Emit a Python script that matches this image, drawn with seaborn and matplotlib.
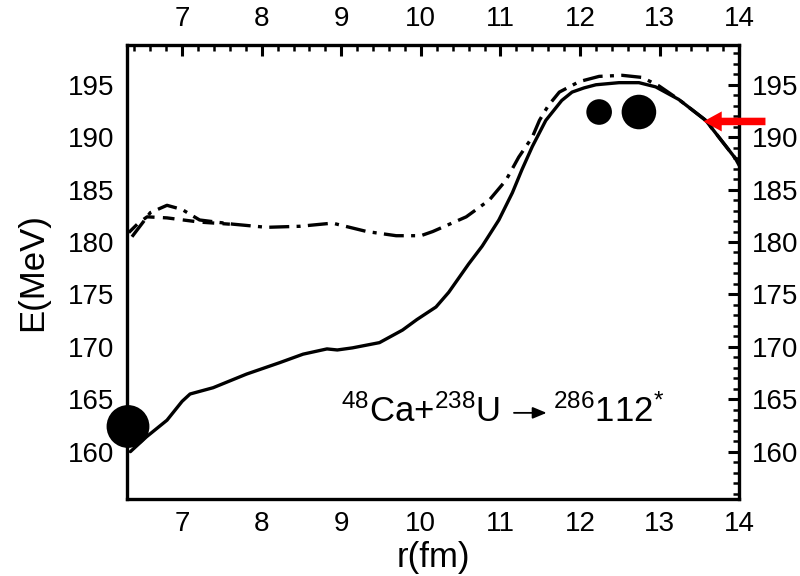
import numpy as np
import pandas as pd
import seaborn as sns
import matplotlib
matplotlib.use("Agg")
import matplotlib.pyplot as plt
from matplotlib.ticker import MultipleLocator

# ---- data ----
solid_r = [6.35, 6.55, 6.81, 7.0, 7.1, 7.39, 7.81, 8.23, 8.52, 8.82, 8.95, 9.14, 9.48,
           9.77, 9.95, 10.19, 10.35, 10.6, 10.77, 10.98, 11.15, 11.27, 11.40, 11.57,
           11.77, 11.9, 12.05, 12.20, 12.49, 12.74, 12.95, 13.24, 13.58, 13.95, 14.0]
solid_E = [160.0, 161.4, 163.0, 164.8, 165.5, 166.1, 167.4, 168.5, 169.3, 169.8, 169.7,
           169.9, 170.4, 171.6, 172.6, 173.8, 175.2, 177.9, 179.6, 182.1, 184.7, 186.9,
           189.1, 191.6, 193.5, 194.3, 194.7, 195.0, 195.2, 195.2, 194.8, 193.6, 191.6,
           188.0, 187.3]

dashdot_r = [6.37, 6.6, 6.81, 7.0, 7.22, 7.64, 8.06, 8.48, 8.89, 9.32, 9.69, 10.0, 10.15,
             10.57, 10.86, 11.07, 11.23, 11.40, 11.49, 11.6, 11.74, 11.99, 12.24, 12.53,
             12.78, 12.99, 13.24, 13.58, 13.95, 14.0]
dashdot_E = [180.5, 182.8, 183.5, 183.1, 182.1, 181.7, 181.4, 181.5, 181.8, 181.0, 180.6,
             180.6, 181.0, 182.4, 184.0, 185.9, 188.1, 190.0, 191.6, 193.0, 194.3, 195.3,
             195.8, 195.9, 195.7, 194.9, 193.6, 191.6, 188.0, 187.3]

dashed_r = [6.33, 6.45, 6.56, 6.81, 7.22, 7.6]
dashed_E = [180.9, 181.8, 182.4, 182.3, 181.9, 181.7]

circle_r = [6.32, 12.24, 12.74]
circle_E = [162.4, 192.4, 192.4]
circle_s = [950, 340, 620]

xticks = [7, 8, 9, 10, 11, 12, 13, 14]
yticks = [160, 165, 170, 175, 180, 185, 190, 195]

sns.set_theme(style="white")
plt.rcParams['font.family'] = ['Liberation Sans', 'DejaVu Sans']
plt.rcParams['mathtext.fontset'] = 'custom'
plt.rcParams['mathtext.rm'] = 'Liberation Sans'
plt.rcParams['mathtext.it'] = 'Liberation Sans'
plt.rcParams['mathtext.bf'] = 'Liberation Sans'
plt.rcParams['text.color'] = 'black'
plt.rcParams['axes.labelcolor'] = 'black'

fig = plt.figure(figsize=(8, 5.76), dpi=100)
fig.patch.set_facecolor('white')
ax = fig.add_axes([0.159, 0.134, 0.765, 0.788])
ax.set_facecolor('white')

sns.lineplot(x=solid_r, y=solid_E, ax=ax, color='black', lw=2.4, sort=False)
sns.lineplot(x=dashdot_r, y=dashdot_E, ax=ax, color='black', lw=2.4, sort=False)
ax.lines[-1].set_dashes([6, 2.2, 1.2, 2.2])
sns.lineplot(x=dashed_r, y=dashed_E, ax=ax, color='black', lw=2.4, sort=False)
ax.lines[-1].set_dashes([3.5, 2.5])

sns.scatterplot(x=circle_r, y=circle_E, ax=ax, s=circle_s, color='black',
                edgecolor='black', linewidth=0, legend=False, zorder=5, clip_on=False)

ax.set_xlim(6.31, 14.0)
ax.set_ylim(155.5, 198.8)
ax.set_xticks(xticks)
ax.set_yticks(yticks)
ax.xaxis.set_minor_locator(MultipleLocator(0.2))
ax.yaxis.set_minor_locator(MultipleLocator(1))
ax.tick_params(which='both', direction='in', top=True, right=True,
               labeltop=True, labelright=True, colors='black', labelsize=20)
ax.tick_params(which='major', length=8, width=2.2, pad=9)
ax.tick_params(which='minor', length=4, width=1.8)
for s in ax.spines.values():
    s.set_linewidth(2.4)
    s.set_color('black')

ax.set_xlabel('r(fm)', fontsize=25, labelpad=3)
ax.set_ylabel('E(MeV)', fontsize=25, labelpad=14)

ax.text(9.0, 162.8, r'$^{48}$Ca+$^{238}$U', fontsize=25, ha='left', va='baseline')
ax.annotate('', xy=(11.58, 163.7), xytext=(11.17, 163.7),
            arrowprops=dict(arrowstyle='-|>,head_length=0.6,head_width=0.25',
                            color='black', lw=1.3, mutation_scale=14,
                            shrinkA=0, shrinkB=0))
ax.text(11.66, 162.8, r'$^{286}$112$^{*}$', fontsize=25, ha='left', va='baseline')

ax.annotate('', xy=(13.55, 191.5), xytext=(14.33, 191.5),
            arrowprops=dict(arrowstyle='simple,head_length=1.1,head_width=1.2,tail_width=0.45',
                            color='red', mutation_scale=12, shrinkA=0, shrinkB=0, lw=0),
            annotation_clip=False)

fig.savefig('out.png', dpi=100, facecolor='white')
